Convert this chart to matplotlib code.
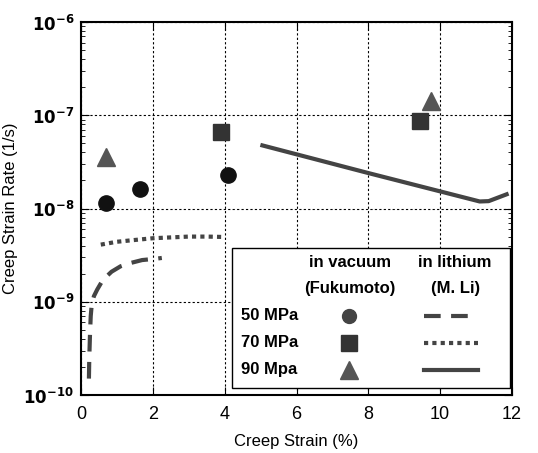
import numpy as np
import matplotlib.pyplot as plt
from matplotlib.lines import Line2D

plt.rcParams['font.family'] = ['Liberation Sans', 'DejaVu Sans']

# in vacuum (Fukumoto) points
x_50 = [0.7, 1.65, 4.1]
y_50 = [1.16e-8, 1.6e-8, 2.26e-8]
x_70 = [3.9, 9.45]
y_70 = [6.6e-8, 8.6e-8]
x_90 = [0.7, 9.75]
y_90 = [3.6e-8, 1.41e-7]

# in lithium (M. Li) curves
li50_x = [0.22, 0.23, 0.25, 0.27, 0.3, 0.36, 0.45, 0.61, 0.85, 1.1, 1.37, 1.7, 2.1, 2.25]
li50_y = [1.5e-10, 2.5e-10, 4.5e-10, 7e-10, 9.5e-10, 1.15e-9, 1.35e-9, 1.72e-9, 2.1e-9, 2.4e-9, 2.6e-9, 2.8e-9, 2.9e-9, 2.95e-9]
li70_x = [0.55, 1.0, 1.5, 2.0, 2.5, 3.0, 3.5, 4.0]
li70_y = [4.1e-9, 4.4e-9, 4.6e-9, 4.8e-9, 4.9e-9, 5.0e-9, 5.0e-9, 4.95e-9]
li90_x = [5.05, 8.0, 11.1, 11.35, 11.85]
li90_y = [4.75e-8, 2.4e-8, 1.19e-8, 1.2e-8, 1.42e-8]

col = '#444444'
mk = '#111111'

fig = plt.figure(figsize=(5.38, 4.53), dpi=100)
ax = fig.add_axes([0.1506, 0.128, 0.8011, 0.8234])

ax.plot(li50_x, li50_y, color=col, lw=3, dashes=(4, 2.5))
ax.plot(li70_x, li70_y, color=col, lw=3, dashes=(1, 1))
ax.plot(li90_x, li90_y, color=col, lw=3)

ax.plot(x_50, y_50, 'o', color=mk, ms=11, ls='none')
ax.plot(x_70, y_70, 's', color='#333333', ms=11, ls='none')
ax.plot(x_90, y_90, '^', color='#555555', ms=13, ls='none')

ax.set_yscale('log')
ax.set_xlim(0, 12)
ax.set_ylim(1e-10, 1e-6)
ax.set_xticks([0, 2, 4, 6, 8, 10, 12])
ax.set_yticks([1e-10, 1e-9, 1e-8, 1e-7, 1e-6])
ax.set_yticklabels([r'$\mathbf{10^{-10}}$', r'$\mathbf{10^{-9}}$', r'$\mathbf{10^{-8}}$',
                    r'$\mathbf{10^{-7}}$', r'$\mathbf{10^{-6}}$'])
ax.tick_params(which='both', direction='in', top=True, right=True)
ax.tick_params(axis='x', labelsize=13, pad=8)
ax.tick_params(axis='y', labelsize=12, pad=5)
ax.tick_params(which='major', length=6)
ax.tick_params(which='minor', length=3)
ax.grid(True, which='major', color='black', lw=0.8, dashes=(2, 2))
for s in ax.spines.values():
    s.set_linewidth(1.5)

ax.set_xlabel('Creep Strain (%)', fontsize=12, labelpad=8)
ax.set_ylabel('Creep Strain Rate (1/s)', fontsize=12)

# table-like legend
box = plt.Rectangle((0.35, 0.019), 0.645, 0.375, transform=ax.transAxes,
                    facecolor='white', edgecolor='black', lw=1, zorder=5)
ax.add_patch(box)
tx = dict(transform=ax.transAxes, fontsize=12, fontweight='bold', zorder=6, va='center')
ax.text(0.624, 0.355, 'in vacuum', ha='center', **tx)
ax.text(0.624, 0.285, '(Fukumoto)', ha='center', **tx)
ax.text(0.868, 0.355, 'in lithium', ha='center', **tx)
ax.text(0.868, 0.285, '(M. Li)', ha='center', **tx)
rows = [0.213, 0.14, 0.068]
for y, lab in zip(rows, ['50 MPa', '70 MPa', '90 Mpa']):
    ax.text(0.372, y, lab, ha='left', **tx)
ax.plot([0.622], [rows[0]], 'o', color='#444444', ms=10, transform=ax.transAxes, zorder=6, clip_on=False)
ax.plot([0.622], [rows[1]], 's', color='#333333', ms=11, transform=ax.transAxes, zorder=6, clip_on=False)
ax.plot([0.622], [rows[2]], '^', color='#555555', ms=13, transform=ax.transAxes, zorder=6, clip_on=False)
ax.add_line(Line2D([0.796, 0.92], [rows[0]] * 2, color=col, lw=3, dashes=(4, 2.5), transform=ax.transAxes, zorder=6))
ax.add_line(Line2D([0.796, 0.92], [rows[1]] * 2, color=col, lw=3, dashes=(1, 1), transform=ax.transAxes, zorder=6))
ax.add_line(Line2D([0.796, 0.92], [rows[2]] * 2, color=col, lw=3, transform=ax.transAxes, zorder=6))

fig.savefig('out.png', dpi=100)
